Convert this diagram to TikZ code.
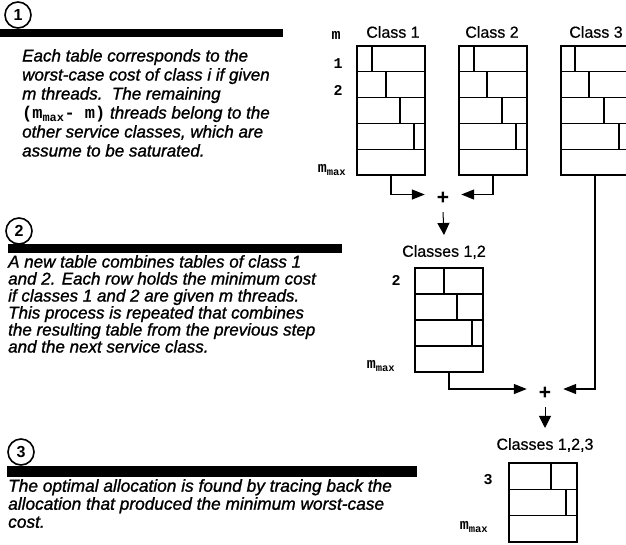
\documentclass[tikz,border=0pt]{standalone}
\usepackage{fontspec}
\setmainfont{Liberation Sans}[UprightFeatures={FakeBold=0.6},ItalicFeatures={FakeBold=1.2}]
\setmonofont{Liberation Mono}
\usetikzlibrary{arrows.meta}
\tikzset{
  tbl/.style={draw, rectangle, line width=1.3pt, minimum width=68pt, inner sep=0pt, outer sep=0pt},
  cell/.style={line width=1.1pt},
  cls/.style={font=\fontsize{16}{18}\selectfont, inner sep=0pt},
  rowlab/.style={font=\fontsize{15}{15}\selectfont\ttfamily\bfseries, inner sep=0pt},
  num/.style={circle, draw, line width=1.6pt, minimum size=26pt, inner sep=0pt, font=\fontsize{16}{16}\selectfont\bfseries},
  desc/.style={align=left, anchor=north west, inner sep=0pt},
  conn/.style={line width=1.3pt},
  arr/.style={conn, -{Triangle[length=13pt,width=10pt]}},
  darr/.style={line width=1pt, -{Triangle[length=12pt,width=12pt]}},
  plus/.style={font=\fontsize{21}{21}\selectfont\bfseries, inner sep=0pt, minimum width=36pt, minimum height=28pt},
}
\newcommand\costtab[3]{%
  \begin{scope}[shift={(#1.north west)}]
    \foreach \o [count=\i] in {#3} {
      \draw[cell] (\o,{(\i-1)*#2}) -- (\o,{\i*#2});
      \draw[cell] (0,{\i*#2}) -- (68,{\i*#2});
    }
  \end{scope}}
\newcommand\mmax{{\ttfamily\bfseries\fontsize{15}{15}\selectfont m\textsubscript{max}}}
\begin{document}
\begin{tikzpicture}[x=1pt,y=-1pt]
\useasboundingbox (0,0) rectangle (626,544);
\clip (0,0) rectangle (626,544);

% ---- step markers and bars
\node[num] (n1) at (18,15) {1};
\fill (0,29) rectangle (283,37);
\node[num] (n2) at (19,231) {2};
\fill (8,244) rectangle (342,253);
\node[num] (n3) at (21,452) {3};
\fill (7,466) rectangle (417,477);

% ---- descriptions
\node[desc, font=\fontsize{17}{19}\selectfont\itshape] (d1) at (22,49) {%
Each table corresponds to the\\
worst-case cost of class i if given\\
m threads.\ \ The remaining\\
{\upshape\ttfamily\bfseries (m\textsubscript{max}- m)} threads belong to the\\
other service classes, which are\\
assume to be saturated.};

\node[desc, font=\fontsize{17}{17}\selectfont\itshape] (d2) at (8,255) {%
A new table combines tables of class 1\\
and 2. Each row holds the minimum cost\\
if classes 1 and 2 are given m threads.\\
This process is repeated that combines\\
the resulting table from the previous step\\
and the next service class.};

\node[desc, font=\fontsize{17.3}{18}\selectfont\itshape] (d3) at (8,479) {%
The optimal allocation is found by tracing back the\\
allocation that produced the minimum worst-case\\
cost.};

% ---- tables
\node[tbl, minimum height=129pt] (c1) at (391,110.5) {};
\costtab{c1}{25.8}{15,29,43,57}
\node[tbl, minimum height=129pt] (c2) at (493,110.5) {};
\costtab{c2}{25.8}{15,28,43,57}
\node[tbl, minimum height=129pt] (c3) at (595,110.5) {};
\costtab{c3}{25.8}{14,28,43,58}
\node[tbl, minimum height=104pt] (c12) at (449,320) {};
\costtab{c12}{26}{29,42,57}
\node[tbl, minimum height=79pt] (c123) at (543,502.5) {};
\costtab{c123}{26.33}{42,57}

% ---- table titles
\node[cls] (l1) at (393,32) {Class 1};
\node[cls] (l2) at (492,32) {Class 2};
\node[cls] (l3) at (596,32) {Class 3};
\node[cls] (l12) at (444,252) {Classes 1,2};
\node[cls] (l123) at (545,445) {Classes 1,2,3};

% ---- row labels
\node[rowlab] (rm) at (336,35) {m};
\node[rowlab] (r1) at (338,64) {1};
\node[rowlab] (r2) at (338,90) {2};
\node[rowlab] (rx1) at (332,170) {\mmax};
\node[rowlab] (s2) at (396,280) {2};
\node[rowlab] (rx2) at (381,366) {\mmax};
\node[rowlab] (s3) at (488,480) {3};
\node[rowlab] (rx3) at (474,527) {\mmax};

% ---- combination
\node[plus] (p1) at (443,198) {+};
\node[plus] (p2) at (545,393) {+};
\draw[arr] (c1.south) |- ([yshift=3.5pt]p1.west);
\draw[arr] (c2.south) |- ([yshift=3.5pt]p1.east);
\draw[darr] (p1.south) -- ([yshift=10pt]l12.north);
\draw[arr] (c12.south) |- ([yshift=4pt]p2.west);
\draw[arr] (c3.south) |- ([yshift=4pt]p2.east);
\draw[darr] (p2.south) -- ([yshift=10pt]l123.north);
\end{tikzpicture}
\end{document}
